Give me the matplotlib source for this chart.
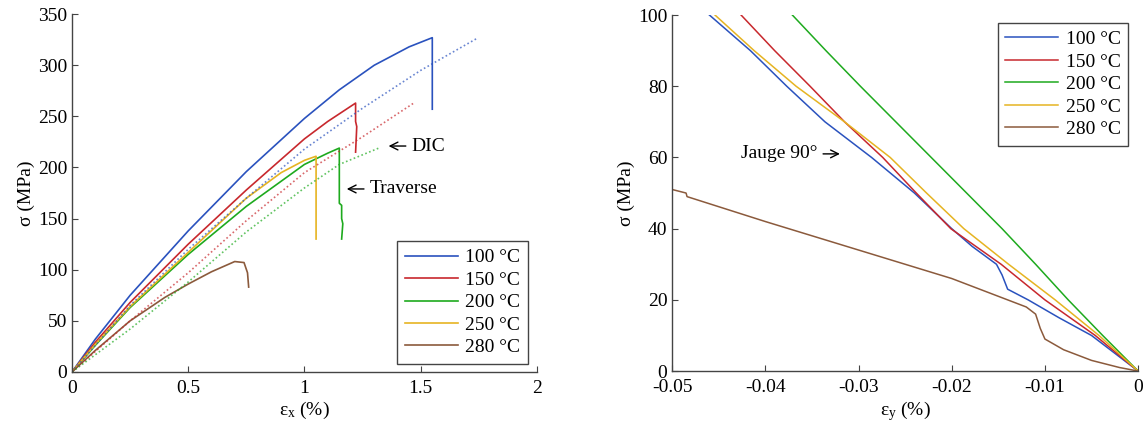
import numpy as np
import matplotlib
matplotlib.use("Agg")
import matplotlib.pyplot as plt

plt.rcParams['font.family'] = ['Liberation Serif', 'DejaVu Serif']
plt.rcParams['mathtext.fontset'] = 'custom'
plt.rcParams['mathtext.rm'] = 'Liberation Serif'
plt.rcParams['mathtext.it'] = 'Liberation Serif:italic'

labels = ['100 °C', '150 °C', '200 °C', '250 °C', '280 °C']
colors = ['#2a52be', '#c8282d', '#1eaa1e', '#e6b422', '#8b5a3c']

# gauche : traverse (traits pleins)
trav_x = [
    [0, 0.1, 0.25, 0.5, 0.75, 1.0, 1.15, 1.3, 1.45, 1.55, 1.55],
    [0, 0.1, 0.25, 0.5, 0.75, 1.0, 1.1, 1.22, 1.22, 1.225, 1.22],
    [0, 0.1, 0.25, 0.5, 0.75, 1.0, 1.1, 1.15, 1.15, 1.16, 1.16, 1.165, 1.16],
    [0, 0.1, 0.25, 0.5, 0.75, 0.9, 1.0, 1.05, 1.05],
    [0, 0.1, 0.25, 0.4, 0.5, 0.6, 0.7, 0.74, 0.755, 0.76],
]
trav_y = [
    [0, 32, 75, 138, 196, 248, 276, 300, 318, 327, 257],
    [0, 29, 68, 125, 178, 228, 245, 263, 245, 240, 215],
    [0, 26, 63, 115, 162, 203, 214, 219, 165, 163, 150, 145, 130],
    [0, 27, 64, 117, 170, 195, 207, 211, 130],
    [0, 21, 50, 73, 86, 98, 108, 107, 97, 83],
]

# gauche : DIC (pointilles)
dic_x = [
    [0, 0.25, 0.5, 0.75, 1.0, 1.25, 1.5, 1.74],
    [0, 0.25, 0.5, 0.75, 1.0, 1.25, 1.47],
    [0, 0.25, 0.5, 0.75, 1.0, 1.15, 1.32],
]
dic_y = [
    [0, 65, 120, 170, 218, 258, 295, 326],
    [0, 50, 97, 148, 195, 230, 263],
    [0, 42, 88, 137, 180, 203, 219],
]

# droite : jauge 90°
jauge_y = [
    [0, 5, 10, 15, 20, 23, 27, 30, 35, 40, 50, 60, 70, 80, 90, 100],
    [0, 10, 20, 30, 40, 50, 60, 70, 80, 90, 100],
    [0, 10, 20, 30, 40, 50, 60, 70, 80, 90, 100],
    [0, 10, 20, 30, 40, 50, 60, 70, 80, 90, 100],
    [0, 1, 3, 6, 9, 12, 16, 18, 21, 26, 34, 42, 49, 50, 51],
]
jauge_x = [
    [0, -0.0025, -0.0050, -0.0085, -0.0118, -0.0140, -0.0146, -0.0152, -0.0178, -0.0200, -0.0240, -0.0286, -0.0336, -0.0377, -0.0416, -0.0460],
    [0, -0.0046, -0.0100, -0.0147, -0.0201, -0.0238, -0.0274, -0.0315, -0.0352, -0.0390, -0.0426],
    [0, -0.0038, -0.0075, -0.0110, -0.0146, -0.0184, -0.0222, -0.0260, -0.0298, -0.0335, -0.0371],
    [0, -0.0042, -0.0089, -0.0139, -0.0187, -0.0227, -0.0266, -0.0315, -0.0367, -0.0412, -0.0454],
    [0, -0.002, -0.005, -0.008, -0.010, -0.0105, -0.011, -0.012, -0.015, -0.020, -0.030, -0.040, -0.0484, -0.0485, -0.050],
]

fig = plt.figure(figsize=(11.45, 4.29), dpi=100)
ax1 = fig.add_axes([0.0629, 0.133, 0.406, 0.834])
ax2 = fig.add_axes([0.587, 0.135, 0.407, 0.830])

for i in range(5):
    ax1.plot(trav_x[i], trav_y[i], color=colors[i], lw=1.2, label=labels[i])
for i in range(3):
    ax1.plot(dic_x[i], dic_y[i], color=colors[i], lw=1.2, ls=(0, (1, 1.5)), alpha=0.7)
for i in range(5):
    ax2.plot(jauge_x[i], jauge_y[i], color=colors[i], lw=1.1, label=labels[i])

ax1.annotate('DIC', xy=(1.35, 221), xytext=(1.46, 221), fontsize=14, va='center',
             arrowprops=dict(arrowstyle='->', color='k', lw=1))
ax1.annotate('Traverse', xy=(1.17, 179), xytext=(1.28, 179), fontsize=14, va='center',
             arrowprops=dict(arrowstyle='->', color='k', lw=1))
ax2.annotate('Jauge 90°', xy=(-0.0317, 61), xytext=(-0.0344, 61), fontsize=14, va='center', ha='right',
             arrowprops=dict(arrowstyle='->', color='k', lw=1))

ax1.set_xlim(0, 2)
ax1.set_ylim(0, 350)
ax1.set_xticks([0, 0.5, 1, 1.5, 2])
ax1.set_xticklabels(['0', '0.5', '1', '1.5', '2'])
ax1.set_yticks(range(0, 351, 50))
ax1.set_xlabel('ε$_\\mathrm{x}$ (%)', fontsize=14, labelpad=2)
ax1.set_ylabel('σ (MPa)', fontsize=14, labelpad=2)

ax2.set_xlim(-0.05, 0)
ax2.set_ylim(0, 100)
ax2.set_xticks([-0.05, -0.04, -0.03, -0.02, -0.01, 0])
ax2.set_xticklabels(['-0.05', '-0.04', '-0.03', '-0.02', '-0.01', '0'])
ax2.set_yticks(range(0, 101, 20))
ax2.set_xlabel('ε$_\\mathrm{y}$ (%)', fontsize=14, labelpad=2)
ax2.set_ylabel('σ (MPa)', fontsize=14, labelpad=2)

for ax in (ax1, ax2):
    ax.spines['top'].set_visible(False)
    ax.spines['right'].set_visible(False)
    for s in ('left', 'bottom'):
        ax.spines[s].set_color('#444444')
        ax.spines[s].set_linewidth(1)
    ax.tick_params(direction='in', labelsize=14, color='#444444', length=4)
    ax.tick_params(axis='x', pad=6)

leg1 = ax1.legend(loc='lower right', bbox_to_anchor=(0.981, 0.022), fontsize=14, fancybox=False,
                  edgecolor='#444444', framealpha=1, handlelength=2.7, borderpad=0.4,
                  labelspacing=0.25, handletextpad=0.4, borderaxespad=0)
leg1.get_frame().set_linewidth(1)
leg2 = ax2.legend(loc='upper right', bbox_to_anchor=(0.979, 0.978), fontsize=14, fancybox=False,
                  edgecolor='#444444', framealpha=1, handlelength=2.7, borderpad=0.4,
                  labelspacing=0.25, handletextpad=0.4, borderaxespad=0)
leg2.get_frame().set_linewidth(1)

fig.savefig('out.png', dpi=100)
